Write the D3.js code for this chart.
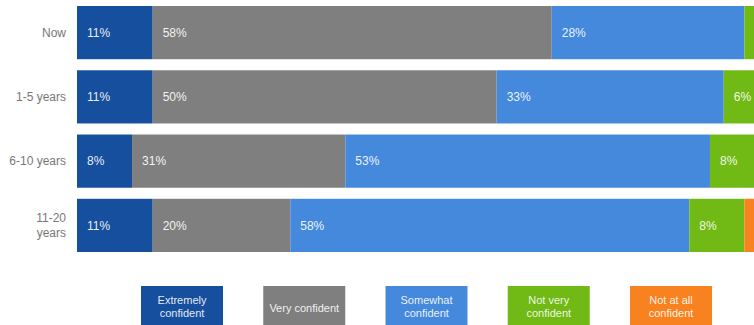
<!DOCTYPE html>
<html>
<head>
<meta charset="utf-8">
<script src="https://cdn.jsdelivr.net/npm/d3@7"></script>
<style>
  body { margin: 0; background: #fff; }
  svg { display: block; font-family: "Liberation Sans", Arial, sans-serif; }
</style>
</head>
<body>
<svg width="754" height="325"></svg>
<script>
var rows = ["Now", "1-5 years", "6-10 years", "11-20 years"];
var rowLines = [["Now"], ["1-5 years"], ["6-10 years"], ["11-20", "years"]];
var series = ["Extremely confident", "Very confident", "Somewhat confident", "Not very confident", "Not at all confident"];
var legendLines = [["Extremely", "confident"], ["Very confident"], ["Somewhat", "confident"], ["Not very", "confident"], ["Not at all", "confident"]];
var colors = ["#164f9e", "#7f7f7f", "#4589dd", "#71b914", "#f8821f"];

var extremely = [11, 11, 8, 11];
var very = [58, 50, 31, 20];
var somewhat = [28, 33, 53, 58];
var notVery = [3, 6, 8, 8];
var notAtAll = [0, 0, 0, 3];

var svg = d3.select("svg"),
    width = +svg.attr("width"),
    height = +svg.attr("height");

var table = rows.map(function (r, i) {
    return {
        row: r,
        "Extremely confident": extremely[i],
        "Very confident": very[i],
        "Somewhat confident": somewhat[i],
        "Not very confident": notVery[i],
        "Not at all confident": notAtAll[i]
    };
});

var stack = d3.stack().keys(series)(table);

var x = d3.scaleLinear()
    .domain([0, 100])
    .range([77, 765]);

var y = d3.scaleBand()
    .domain(rows)
    .range([6, 252])
    .paddingInner(0.172)
    .paddingOuter(0);

var color = d3.scaleOrdinal()
    .domain(series)
    .range(colors);

var layers = svg.append("g")
    .selectAll("g")
    .data(stack)
    .enter().append("g")
    .attr("fill", function (d) { return color(d.key); });

layers.selectAll("rect")
    .data(function (d) { return d; })
    .enter().append("rect")
    .attr("x", function (d) { return x(d[0]); })
    .attr("y", function (d) { return y(d.data.row); })
    .attr("width", function (d) { return x(d[1]) - x(d[0]); })
    .attr("height", y.bandwidth());

layers.selectAll("text")
    .data(function (d) { return d.filter(function (p) { return p[1] - p[0] > 0; }); })
    .enter().append("text")
    .attr("x", function (d) { return x(d[0]) + 10; })
    .attr("y", function (d) { return y(d.data.row) + y.bandwidth() / 2; })
    .attr("dy", "0.35em")
    .attr("fill", "#fff")
    .attr("fill-opacity", 0.92)
    .attr("font-size", 12)
    .text(function (d) { return (d[1] - d[0]) + "%"; });

// row labels
var rl = svg.append("g")
    .selectAll("text")
    .data(rows)
    .enter().append("text")
    .attr("x", 66)
    .attr("y", function (d) { return y(d) + y.bandwidth() / 2; })
    .attr("text-anchor", "end")
    .attr("fill", "#777")
    .attr("font-size", 12);

rl.each(function (d, i) {
    var lines = rowLines[i];
    var t = d3.select(this);
    lines.forEach(function (line, j) {
        t.append("tspan")
            .attr("x", 66)
            .attr("dy", j == 0 ? (0.35 - (lines.length - 1) * 0.6) + "em" : "1.2em")
            .text(line);
    });
});

// legend
var lx = d3.scalePoint()
    .domain(series)
    .range([182, 671]);

var legend = svg.append("g")
    .selectAll("g")
    .data(series)
    .enter().append("g")
    .attr("transform", function (d) { return "translate(" + lx(d) + ",0)"; });

legend.append("rect")
    .attr("x", -41)
    .attr("y", 286)
    .attr("width", 82)
    .attr("height", 40)
    .attr("fill", function (d) { return color(d); });

legend.append("text")
    .attr("text-anchor", "middle")
    .attr("fill", "#fff")
    .attr("fill-opacity", 0.9)
    .attr("font-size", 11)
    .each(function (d, i) {
        var lines = legendLines[i];
        var t = d3.select(this);
        lines.forEach(function (line, j) {
            t.append("tspan")
                .attr("x", 0)
                .attr("y", lines.length == 1 ? 312 : 304 + j * 13)
                .text(line);
        });
    });
</script>
</body>
</html>
